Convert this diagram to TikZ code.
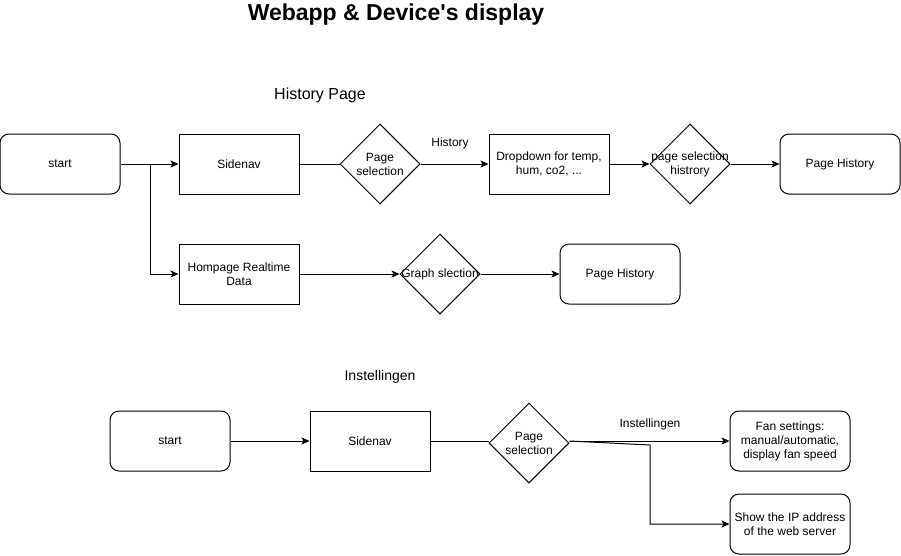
\documentclass[tikz,border=0pt]{standalone}
\usepackage{fontspec}
\setmainfont{Liberation Sans}
\usetikzlibrary{shapes.geometric,arrows.meta}
\begin{document}
\begin{tikzpicture}[x=1pt,y=-1pt,line width=1pt,
  every node/.style={font=\fontsize{12}{14}\selectfont,align=center},
  rbox/.style={draw,rounded corners=9pt,minimum width=120pt,minimum height=60pt,inner sep=0pt},
  sbox/.style={draw,minimum width=120pt,minimum height=60pt,inner sep=0pt},
  dec/.style={draw,diamond,minimum width=80pt,minimum height=80pt,inner sep=0pt},
  arr/.style={-{Stealth[length=8pt,width=7pt,inset=2pt]}}]
\useasboundingbox (0,0) rectangle (901,555);
% titles
\node (title) at (396,15) {\fontsize{23}{26}\selectfont\bfseries Webapp \& Device\textquotesingle s display};
\node (hp) at (320,95) {\fontsize{16}{18}\selectfont History Page};
\node (inst) at (380,377) {\fontsize{14}{16}\selectfont Instellingen};
% top flow
\node[rbox] (start1) at (60,164) {start};
\node[sbox] (side1) at (239,164) {Sidenav};
\node[dec] (ps1) at (380,164) {};
\node (ps1t) at (ps1.center) {Page\\selection};
\node[sbox] (drop) at (549,164) {Dropdown for temp,\\hum, co2, ...};
\node[dec] (ps2) at (690,164) {};
\node (ps2t) at (ps2.center) {page selection\\histrory};
\node[rbox] (ph1) at (840,164) {Page History};
\node[sbox] (home) at (239,274) {Hompage Realtime\\Data};
\node[dec] (gs) at (440,274) {};
\node (gst) at (gs.center) {Graph slection};
\node[rbox] (ph2) at (620,274) {Page History};
\coordinate (j1) at (150,164);
\draw[arr] (start1) -- (side1);
\draw[arr] (start1.east) -- (j1) |- (home.west);
\draw (side1) -- (ps1);
\draw[arr] (ps1) -- (drop);
\node (lh) at (450,143) {History};
\draw[arr] (drop) -- (ps2);
\draw[arr] (ps2) -- (ph1);
\draw[arr] (home) -- (gs);
\draw[arr] (gs) -- (ph2);
% bottom flow
\node[rbox] (start2) at (170,441) {start};
\node[sbox] (side2) at (370,441) {Sidenav};
\node[dec] (ps3) at (529,443) {};
\node (ps3t) at (ps3.center) {Page\\selection};
\node[rbox] (fan) at (790,441) {Fan settings:\\manual/automatic,\\display fan speed};
\node[rbox] (ip) at (790,524) {Show the IP address\\of the web server};
\draw[arr] (start2) -- (side2);
\draw (side2.east) -- (ps3.west |- side2.east);
\draw[arr] (ps3.east |- fan.west) -- (fan.west);
\node (li) at (650,424) {Instellingen};
\coordinate (j2) at (650,445);
\draw[arr] ([yshift=2pt]ps3.east) -- (j2) |- (ip.west);
\end{tikzpicture}
\end{document}
